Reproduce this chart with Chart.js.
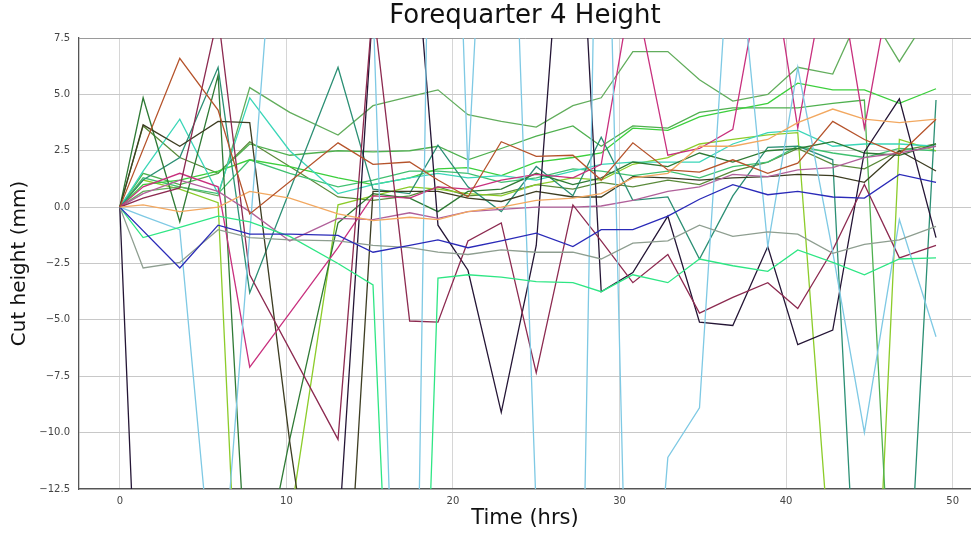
<!DOCTYPE html>
<html lang="en">
<head>
  <meta charset="UTF-8">
  <title>Forequarter 4 Height</title>
  <script src="https://cdn.jsdelivr.net/npm/chart.js"></script>
  <style>
    body { margin: 0; background: #fff; }
    .chart-container { width: 971px; height: 533px; }
  </style>
</head>
<body>

  <div class="chart-container">
    <canvas id="heightChart"></canvas>
  </div>

  <script>
    // sample times (hrs)
    const times = [0, 1.4, 3.6, 5.9, 7.8, 10.2, 13.1, 15.2, 17.4, 19.1, 20.9, 22.9, 25.0, 27.2, 28.9, 30.8, 32.9, 34.8, 36.8, 38.9, 40.7, 42.8, 44.7, 46.8, 49.0];

    // cut height (mm) per carcass (off-scale points run past the axes)
    const sienna      = [0, null, 6.6, 4.3, -0.3, null, 2.85, 1.9, 2.0, 1.2, 0.45, 2.9, 2.25, 2.3, 1.2, 2.85, 1.65, 1.55, 2.1, 1.5, 1.95, 3.8, 3.0, 2.35, 3.9];
    const sandy       = [0, 0.1, -0.2, 0.0, 0.7, 0.4, -0.3, -0.6, -0.45, -0.55, -0.2, 0.0, 0.3, 0.4, 0.6, 1.3, 1.5, 2.7, 2.7, 3.0, 3.75, 4.35, 3.9, 3.75, 3.9];
    const navy        = [0, null, -2.7, -0.8, -1.2, -1.2, -1.25, -2.0, -1.7, -1.45, -1.8, -1.5, -1.15, -1.75, -1.0, -1.0, -0.4, 0.35, 1.0, 0.55, 0.7, 0.45, 0.4, 1.45, 1.1];
    const grey        = [0, -2.7, -2.45, -1.0, -1.35, -1.45, -1.5, -1.7, -1.8, -2.0, -2.1, -1.9, -2.0, -2.0, -2.3, -1.6, -1.5, -0.8, -1.3, -1.1, -1.2, -2.05, -1.65, -1.45, -0.85];
    const spring      = [0, -1.35, -0.9, -0.4, -0.65, -1.3, -2.5, -3.45, -40, -3.15, -3.0, -3.1, -3.3, -3.35, -3.75, -3.0, -3.35, -2.3, -2.6, -2.85, -1.9, -2.45, -3.0, -2.3, -2.25];
    const sky         = [0, -0.4, -1.0, -19.4, null, 21.8, 25, 9, -40, 40, 1.5, 30, -13.5, -42.5, 27.5, -30.5, -11.1, -8.9, 14.3, -1.75, 6.2, -2.0, -10.0, -0.55, -5.75];
    const maroon      = [0, 0.4, 0.85, 8.5, -3.0, null, -10.3, 9, -5.05, -5.1, -1.5, -0.7, -7.35, 0.1, -1.5, -3.35, -2.1, -4.7, -4.0, -3.35, -4.5, -1.9, 1.0, -2.25, -1.7];
    const magenta     = [0, 0.9, 1.5, 0.9, -7.1, -4.7, -1.8, 0.5, 0.4, 0.9, 0.8, 1.2, 1.45, 1.3, 1.9, 10, 2.3, 2.6, 3.45, 12, 3.5, 12, 3.5, 12, 12];
    const orchid      = [0, 0.6, 1.2, 0.7, -0.2, -1.5, -0.5, -0.55, -0.25, -0.5, -0.2, -0.1, 0, 0, 0.05, 0.3, 0.7, 0.9, 1.45, 1.35, 1.65, 1.75, 2.2, 2.4, 2.7];
    const black       = [0, -25, null, null, null, null, -15, 9, 15, -0.8, -2.8, -9.1, -1.7, 20, -3.75, -2.9, -0.4, -5.1, -5.25, -1.75, -6.1, -5.45, 2.45, 4.8, -1.35];
    const darkOlive   = [0, 3.65, 2.7, 3.8, 3.75, -10.4, -25, 0.7, 0.7, 0.7, 0.4, 0.25, 0.7, 0.45, 0.45, 1.35, 1.3, 1.2, 1.3, 1.35, 1.45, 1.4, 1.1, 2.5, 1.6];
    const forest      = [0, 4.85, -0.65, 5.85, -19.1, -10.3, -0.7, 0.6, 0.4, -0.2, 0.7, 0.8, 1.5, 1.0, 1.3, 2.0, 1.8, 2.4, 2.0, 2.5, 2.6, 2.9, 2.4, 2.3, 2.8];
    const teal        = [0, 1.2, 2.2, 6.2, -3.8, null, 6.2, 0.8, 0.6, 2.75, 0.9, -0.2, 1.8, 0.5, 3.1, 0.3, 0.45, -2.3, 0.5, 2.65, 2.7, 2.1, -25, -25, 4.75];
    const turquoise   = [0, 1.6, 3.9, 0.6, 4.85, 2.5, 0.6, 1.0, 1.3, 1.5, 1.3, 1.4, 1.2, 1.6, 1.9, 2.0, 2.0, 2.0, 2.8, 3.3, 3.4, 2.7, 2.8, 2.8, 2.7];
    const lime        = [0, 1.0, 1.2, 1.6, 2.1, 1.8, 1.3, 1.0, 1.3, 1.7, 1.75, 1.4, 2.0, 2.2, 2.4, 3.5, 3.4, 4.0, 4.3, 4.6, 5.5, 5.2, 5.2, 4.6, 5.25];
    const midGreen    = [0, 0.7, 0.9, 0.5, 5.3, 4.2, 3.2, 4.5, 4.9, 5.2, 4.1, 3.8, 3.55, 4.5, 4.85, 6.9, 6.9, 5.65, 4.7, 5.0, 6.2, 5.9, 9, 6.45, 9];
    const green3      = [0, 1.5, 1.0, 1.5, 2.8, 2.3, 2.5, 2.45, 2.5, 2.7, 2.1, 2.6, 3.15, 3.6, 2.7, 3.6, 3.5, 4.2, 4.4, 4.4, 4.4, 4.6, 4.75, -25, -25];
    const yellowGreen = [0, 1.2, 0.8, 0.2, -30, -14, 0.1, 0.5, 0.9, 0.8, 0.6, 0.5, 1.0, 1.3, 1.2, 1.9, 2.2, 2.8, 3.0, 3.2, 3.3, -17.2, -30, 3.0, 2.5];
    const seaGreen    = [0, 1.3, 0.9, 0.6, 2.1, 1.5, 0.9, 1.2, 1.6, 1.6, 1.5, 1.1, 1.3, 1.7, 1.6, 1.4, 1.6, 1.3, 1.8, 2.0, 2.7, 2.4, 2.2, 2.6, 2.5];
    const olive       = [0, 3.6, 2.2, 1.5, 2.9, 1.8, 0.45, 0.3, 0.5, 0.9, 0.5, 0.6, 1.0, 0.8, 1.1, 0.9, 1.2, 1.0, 1.6, 2.0, 2.6, 1.9, 1.7, 2.5, 2.8];

    const series = [
      [sienna, '#b5532b'], [sandy, '#f2a860'], [navy, '#2a2ab8'], [grey, '#8e9e90'],
      [spring, '#2ee684'], [sky, '#7ec9e4'], [maroon, '#8c2a50'], [magenta, '#c8307e'],
      [orchid, '#b0609a'], [black, '#241535'], [darkOlive, '#3d3d22'], [forest, '#2f7a35'],
      [teal, '#2b8f74'], [turquoise, '#3ad6b8'], [lime, '#3ccf3c'], [midGreen, '#62ad5c'],
      [green3, '#4fb04f'], [yellowGreen, '#8ccc2a'], [seaGreen, '#40c070'], [olive, '#5a8a3a']
    ];

    const datasets = series.map(([values, color]) => ({
      data: values.map((v, i) => ({ x: times[i], y: v })),
      borderColor: color,
      borderWidth: 1.3,
      pointRadius: 0,
      tension: 0,
      spanGaps: true,
      fill: false
    }));

    const minus = v => String(v).replace('-', '\u2212');

    new Chart(document.getElementById('heightChart'), {
      type: 'line',
      data: { datasets },
      options: {
        responsive: true,
        maintainAspectRatio: false,
        animation: false,
        layout: { padding: 0 },
        plugins: {
          legend: { display: false },
          tooltip: { enabled: false },
          title: {
            display: true,
            fullSize: false,
            text: 'Forequarter 4 Height',
            color: '#111',
            font: { family: 'DejaVu Sans', size: 26, weight: 'normal' },
            padding: { top: 1, bottom: 5.8 }
          }
        },
        scales: {
          x: {
            type: 'linear',
            min: -2.45,
            max: 51.1,
            afterFit: s => { s.height = 44; },
            ticks: {
              stepSize: 10,
              includeBounds: false,
              padding: 6,
              color: '#444',
              font: { family: 'DejaVu Sans', size: 10 },
              callback: v => minus(v)
            },
            grid: { color: '#d6d6d6', drawTicks: false },
            border: { color: '#555', width: 1.3 },
            title: {
              display: true,
              text: 'Time (hrs)',
              color: '#111',
              font: { family: 'DejaVu Sans', size: 21 },
              padding: { top: 0, bottom: 2 }
            }
          },
          y: {
            min: -12.5,
            max: 7.5,
            afterFit: s => { s.width = 79; },
            ticks: {
              stepSize: 2.5,
              padding: 9,
              color: '#444',
              font: { family: 'DejaVu Sans', size: 10 },
              callback: v => minus(v.toFixed(1))
            },
            grid: {
              drawTicks: false,
              color: ctx => (ctx.tick && ctx.tick.value === 7.5) ? '#9a9a9a' : '#c8c8c8'
            },
            border: { color: '#555', width: 1.3 },
            title: {
              display: true,
              text: 'Cut height (mm)',
              color: '#111',
              font: { family: 'DejaVu Sans', size: 20 },
              padding: { top: 8, bottom: 0 }
            }
          }
        }
      }
    });
  </script>

</body>
</html>
